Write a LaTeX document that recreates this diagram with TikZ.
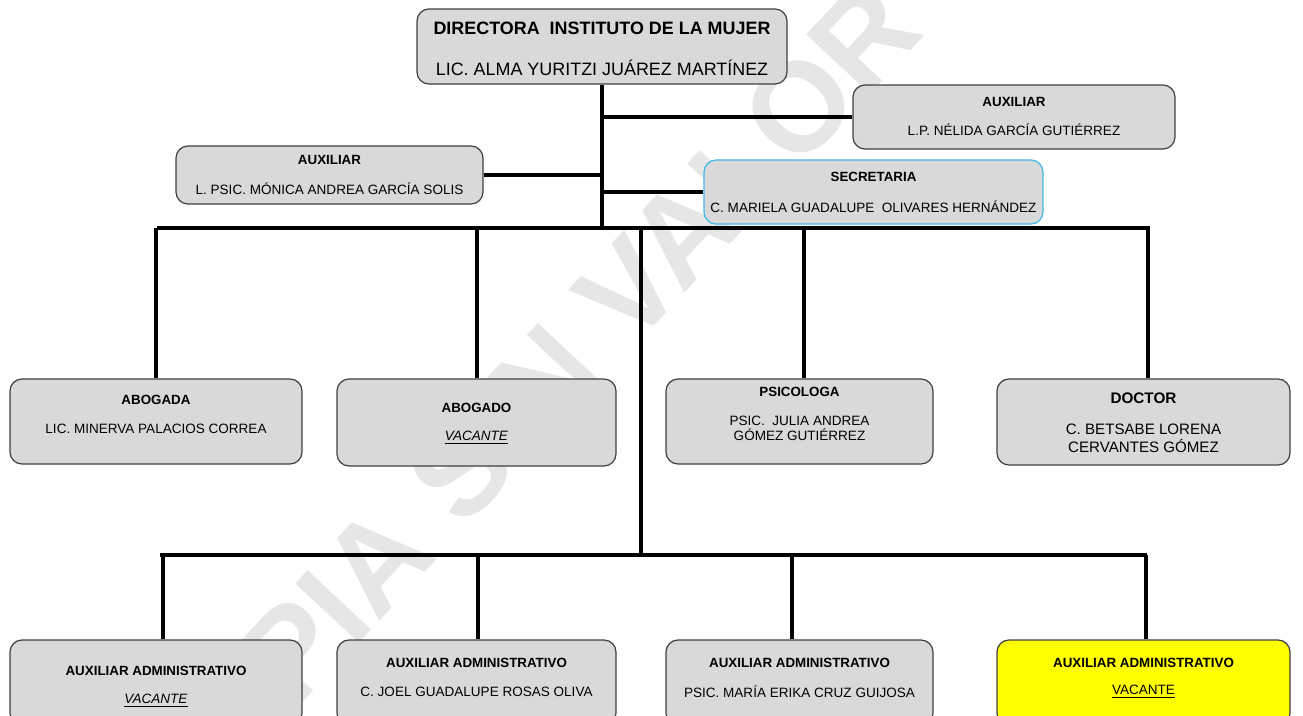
\documentclass[tikz,border=0pt]{standalone}
\usepackage{fontspec}
\setmainfont{Liberation Sans}
\definecolor{cajagris}{HTML}{D9D9D9}
\definecolor{bordegris}{HTML}{404040}
\definecolor{bordeazul}{HTML}{3FB8E8}
\definecolor{amarillo}{HTML}{FFFF00}
\definecolor{marcagris}{HTML}{E6E6E6}
\tikzset{caja/.append style={draw=bordegris, fill=cajagris, rounded corners=2.4mm, line width=0.7pt}}
\tikzset{tam/.style 2 args={minimum width=#1*0.2mm, minimum height=#2*0.2mm}}
\tikzset{rol/.append style={font=\fontsize{7.6}{9}\selectfont\bfseries, inner sep=0}}
\tikzset{nom/.append style={font=\fontsize{7.7}{8.6}\selectfont, inner sep=0, align=center}}
\tikzset{linea/.append style={line width=1.9pt}}
\newcommand{\vacante}{\underline{\textit{VACANTE}}}

\begin{document}
\begin{tikzpicture}[x=0.2mm,y=-0.2mm]
                \useasboundingbox (0,0) rectangle (1303,715);
                \clip (0,0) rectangle (1303,715);
                % marca de agua
                \node[text=marcagris, font=\fontsize{72}{72}\selectfont\bfseries, rotate=47] (marca) at (515,412) {COPIA SIN VALOR};
                % direccion
                \node[caja, tam={370}{75}] (dir) at (602,46.5) {};
                \node[font=\fontsize{10.2}{12}\selectfont\bfseries, inner sep=0] (dirT) at (602,28) {DIRECTORA\ \ INSTITUTO DE LA MUJER};
                \node[font=\fontsize{10.2}{12}\selectfont, inner sep=0] (dirN) at (602,68) {LIC. ALMA YURITZI JUÁREZ MARTÍNEZ};
                % apoyo
                \node[caja, tam={322}{64}] (auxd) at (1014,117) {};
                \node[rol] (auxdT) at (1014,102) {AUXILIAR};
                \node[nom] (auxdN) at (1014,130) {L.P. NÉLIDA GARCÍA GUTIÉRREZ};
                \node[caja, tam={307}{58}] (auxi) at (329.5,175) {};
                \node[rol] (auxiT) at (329.5,160) {AUXILIAR};
                \node[nom] (auxiN) at (329.5,189) {L. PSIC. MÓNICA ANDREA GARCÍA SOLIS};
                \node[caja, draw=bordeazul, tam={339}{64}] (secre) at (873.5,192) {};
                \node[rol] (secreT) at (873.5,177) {SECRETARIA};
                \node[nom] (secreN) at (873.5,207) {C. MARIELA GUADALUPE\ \ OLIVARES HERNÁNDEZ};
                % segundo nivel
                \node[caja, tam={292}{85}] (aboga) at (156,421.5) {};
                \node[rol] (abogaT) at (156,400) {ABOGADA};
                \node[nom] (abogaN) at (156,429) {LIC. MINERVA PALACIOS CORREA};
                \node[caja, tam={279}{87}] (abogo) at (476.5,422.5) {};
                \node[rol] (abogoT) at (476.5,408) {ABOGADO};
                \node[nom] (abogoN) at (476.5,438) {\vacante};
                \node[caja, tam={267}{85}] (psico) at (799.5,421.5) {};
                \node[rol] (psicoT) at (799.5,392) {PSICOLOGA};
                \node[nom] (psicoN) at (799.5,428.5) {PSIC.\ \ JULIA ANDREA\\GÓMEZ GUTIÉRREZ};
                \node[caja, tam={293}{86}] (doc) at (1143.5,422) {};
                \node[rol, font=\fontsize{8.7}{10}\selectfont\bfseries] (docT) at (1143.5,398) {DOCTOR};
                \node[nom, font=\fontsize{8.6}{10.2}\selectfont] (docN) at (1143.5,438) {C. BETSABE LORENA\\CERVANTES GÓMEZ};
                % tercer nivel
                \node[caja, tam={292}{85}] (adm1) at (156,682.5) {};
                \node[rol] (adm1T) at (156,671) {AUXILIAR ADMINISTRATIVO};
                \node[nom] (adm1N) at (156,701) {\vacante};
                \node[caja, tam={279}{85}] (adm2) at (476.5,682.5) {};
                \node[rol] (adm2T) at (476.5,663) {AUXILIAR ADMINISTRATIVO};
                \node[nom] (adm2N) at (476.5,692) {C. JOEL GUADALUPE ROSAS OLIVA};
                \node[caja, tam={267}{85}] (adm3) at (799.5,682.5) {};
                \node[rol] (adm3T) at (799.5,663) {AUXILIAR ADMINISTRATIVO};
                \node[nom] (adm3N) at (799.5,692) {PSIC. MARÍA ERIKA CRUZ GUIJOSA};
                \node[caja, fill=amarillo, tam={293}{85}] (adm4) at (1143.5,682.5) {};
                \node[rol] (adm4T) at (1143.5,663) {AUXILIAR ADMINISTRATIVO};
                \node[nom] (adm4N) at (1143.5,692) {\underline{VACANTE}};
                % barras
                \coordinate (b1i) at (157,228);
                \coordinate (b1d) at (1150,228);
                \coordinate (b2i) at (160,555);
                \coordinate (b2d) at (1147,555);
                \coordinate (t2) at (641,228);
                \coordinate (t2b) at (641,557);
                \draw[linea] (dir.south) -- (dir.south |- b1i);
                \draw[linea] (auxd.west) -- (auxd.west -| dir.south);
                \draw[linea] (auxi.east) -- (auxi.east -| dir.south);
                \draw[linea] (secre.west) -- (secre.west -| dir.south);
                \draw[linea] (b1i) -- (b1d);
                \draw[linea] (t2) -- (t2b);
                \draw[linea] (b2i) -- (b2d);
                \draw[linea] (156,228) -- (aboga.north);
                \draw[linea] (477,228) -- (abogo.north -| 477,0);
                \draw[linea] (804,228) -- (psico.north -| 804,0);
                \draw[linea] (1148,228) -- (doc.north -| 1148,0);
                \draw[linea] (163,555) -- (adm1.north -| 163,0);
                \draw[linea] (478,555) -- (adm2.north -| 478,0);
                \draw[linea] (792,555) -- (adm3.north -| 792,0);
                \draw[linea] (1146,555) -- (adm4.north -| 1146,0);
            \end{tikzpicture}
\end{document}
